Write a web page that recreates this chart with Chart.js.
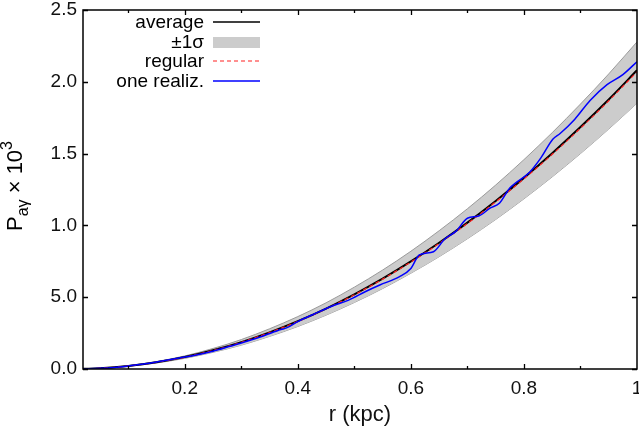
<!DOCTYPE html>
<html><head><meta charset="utf-8">
<script src="https://cdn.jsdelivr.net/npm/chart.js@4.4.1/dist/chart.umd.min.js"></script>
<style>html,body{margin:0;padding:0;background:#fff}#wrap{width:639px;height:428px}</style>
</head><body><div id="wrap"><canvas id="c" width="639" height="428"></canvas></div>
<script>
const rGrid = [0.02,0.05,0.10,0.15,0.20,0.25,0.30,0.35,0.40,0.45,0.50,0.55,0.60,0.65,0.70,0.75,0.80,0.85,0.90,0.95,1.00];
const averageVals = [0.001,0.005,0.021,0.047,0.083,0.130,0.187,0.255,0.333,0.421,0.520,0.629,0.749,0.879,1.019,1.170,1.331,1.503,1.685,1.877,2.080];
const regularVals = [0.001,0.005,0.021,0.047,0.082,0.129,0.186,0.254,0.331,0.419,0.517,0.626,0.745,0.875,1.014,1.164,1.324,1.495,1.677,1.868,2.070];
const sigmaUpper = [0.001,0.006,0.023,0.052,0.091,0.143,0.205,0.280,0.365,0.461,0.570,0.689,0.820,0.963,1.116,1.281,1.458,1.646,1.845,2.055,2.278];
const sigmaLower = [0.001,0.005,0.019,0.042,0.074,0.116,0.166,0.227,0.296,0.375,0.463,0.560,0.667,0.782,0.907,1.041,1.185,1.338,1.500,1.671,1.851];
const realizR = [0.02,0.05,0.08,0.10,0.13,0.16,0.19,0.22,0.25,0.28,0.31,0.34,0.37,0.38,0.40,0.43,0.46,0.49,0.52,0.545,0.58,0.60,0.615,0.64,0.66,0.68,0.70,0.72,0.74,0.757,0.775,0.81,0.83,0.851,0.864,0.89,0.917,0.947,0.975,1.00];
const realizVals = [0.001,0.005,0.013,0.021,0.036,0.056,0.077,0.098,0.124,0.158,0.193,0.232,0.275,0.286,0.330,0.385,0.437,0.480,0.540,0.585,0.643,0.700,0.795,0.817,0.905,0.960,1.050,1.065,1.120,1.156,1.260,1.370,1.470,1.600,1.640,1.740,1.870,1.980,2.050,2.140];
const xTickVals = [0.2,0.4,0.6,0.8,1.0];
const xTickLabels = ['0.2','0.4','0.6','0.8','1'];
const xMinorVals = [0.1,0.3,0.5,0.7,0.9];
const yTickVals = [0,0.5,1.0,1.5,2.0,2.5];
const yTickLabels = ['0.0','5.0','1.0','1.5','2.0','2.5'];
const legendLabels = ['average','\u00b11\u03c3','regular','one realiz.'];

const pts = (xs, ys) => xs.map((x,i)=>({x:x,y:ys[i]}));
const FONT = '"Liberation Sans", Arial, sans-serif';

const framePlugin = {
  id:'frame',
  afterDatasetsDraw(chart){
    const ctx = chart.ctx, a = chart.chartArea, xs = chart.scales.x, ys = chart.scales.y;
    ctx.save();
    ctx.strokeStyle = '#000'; ctx.lineWidth = 1.3;
    ctx.beginPath();
    xTickVals.forEach(v=>{const p=Math.round(xs.getPixelForValue(v))+0.5; if(p<a.right-1){ctx.moveTo(p,a.bottom);ctx.lineTo(p,a.bottom-5);ctx.moveTo(p,a.top);ctx.lineTo(p,a.top+5);}});
    xMinorVals.forEach(v=>{const p=Math.round(xs.getPixelForValue(v))+0.5; ctx.moveTo(p,a.bottom);ctx.lineTo(p,a.bottom-3);ctx.moveTo(p,a.top);ctx.lineTo(p,a.top+3);});
    yTickVals.forEach(v=>{const p=Math.round(ys.getPixelForValue(v))+0.5; ctx.moveTo(a.left,p);ctx.lineTo(a.left+5,p);ctx.moveTo(a.right,p);ctx.lineTo(a.right-5,p);});
    ctx.stroke();
    ctx.lineWidth = 1.5;
    ctx.strokeRect(a.left, a.top, a.right-a.left, a.bottom-a.top);
    // legend
    const rows = [22,42,61,81];
    const tx = 204, l0 = 213, l1 = 260;
    ctx.font = '19px '+FONT; ctx.fillStyle = '#000'; ctx.textAlign='right'; ctx.textBaseline='middle';
    legendLabels.forEach((t,i)=>ctx.fillText(t, tx, rows[i]+1));
    ctx.lineWidth = 1.5; ctx.strokeStyle='#000';
    ctx.beginPath(); ctx.moveTo(l0,rows[0]); ctx.lineTo(l1,rows[0]); ctx.stroke();
    ctx.fillStyle = '#cccccc'; ctx.fillRect(l0, rows[1]-5, l1-l0, 11);
    ctx.strokeStyle = '#ff2020'; ctx.lineWidth=1.2; ctx.setLineDash([4,3]);
    ctx.beginPath(); ctx.moveTo(l0,rows[2]); ctx.lineTo(l1,rows[2]); ctx.stroke();
    ctx.setLineDash([]);
    ctx.strokeStyle = '#0000ff'; ctx.lineWidth=1.5;
    ctx.beginPath(); ctx.moveTo(l0,rows[3]); ctx.lineTo(l1,rows[3]); ctx.stroke();
    // y axis title
    ctx.save();
    ctx.translate(22, 186);
    ctx.rotate(-Math.PI/2);
    ctx.fillStyle = '#000'; ctx.textBaseline='alphabetic'; ctx.textAlign='left';
    const parts = [['P',22,0],['a\u03b3',16,6],[' \u00d7 10',22,0],['3',16,-10]];
    let total = 0;
    parts.forEach(p=>{ctx.font=p[1]+'px '+FONT; total+=ctx.measureText(p[0]).width;});
    let x = -total/2;
    parts.forEach(p=>{ctx.font=p[1]+'px '+FONT; ctx.fillText(p[0], x, p[2]); x+=ctx.measureText(p[0]).width;});
    ctx.restore();
    ctx.restore();
  }
};

new Chart(document.getElementById('c'), {
  type:'line',
  data:{datasets:[
    {label:legendLabels[3], data:pts(realizR, realizVals), borderColor:'#0000ff', borderWidth:1.5, pointRadius:0, fill:false, cubicInterpolationMode:'monotone'},
    {label:legendLabels[2], data:pts(rGrid, regularVals), borderColor:'#ff2020', borderWidth:1.2, borderDash:[4,3], pointRadius:0, fill:false, cubicInterpolationMode:'monotone'},
    {label:legendLabels[0], data:pts(rGrid, averageVals), borderColor:'#000000', borderWidth:2, pointRadius:0, fill:false, cubicInterpolationMode:'monotone'},
    {label:legendLabels[1], data:pts(rGrid, sigmaUpper), borderColor:'#9a9a9a', borderWidth:1, pointRadius:0, fill:'+1', backgroundColor:'#cccccc', cubicInterpolationMode:'monotone'},
    {label:'lower', data:pts(rGrid, sigmaLower), borderColor:'#9a9a9a', borderWidth:1, pointRadius:0, fill:false, cubicInterpolationMode:'monotone'}
  ]},
  options:{
    responsive:false, animation:false, devicePixelRatio:1,
    layout:{padding:{top:10,right:2,left:0,bottom:0}},
    plugins:{legend:{display:false}, tooltip:{enabled:false}},
    scales:{
      x:{type:'linear', min:0.02, max:1.0,
        afterBuildTicks:s=>{s.ticks = xTickVals.map(v=>({value:v}));},
        afterFit:s=>{s.height = 59; s.paddingRight = 0; s.paddingLeft = 0;},
        ticks:{callback:(v,i)=>xTickLabels[i], font:{family:FONT,size:19}, color:'#111', padding:8, maxRotation:0, autoSkip:false},
        grid:{display:false, drawTicks:false}, border:{display:false},
        title:{display:true, text:'r (kpc)', font:{family:FONT,size:22}, color:'#111', padding:{top:2,bottom:0}}
      },
      y:{type:'linear', min:0, max:2.5,
        afterBuildTicks:s=>{s.ticks = yTickVals.map(v=>({value:v}));},
        afterFit:s=>{s.width = 83; s.paddingTop = 0; s.paddingBottom = 0;},
        ticks:{callback:(v,i)=>yTickLabels[i], font:{family:FONT,size:19}, color:'#111', padding:6, autoSkip:false},
        grid:{display:false, drawTicks:false}, border:{display:false}
      }
    }
  },
  plugins:[framePlugin]
});
</script></body></html>
